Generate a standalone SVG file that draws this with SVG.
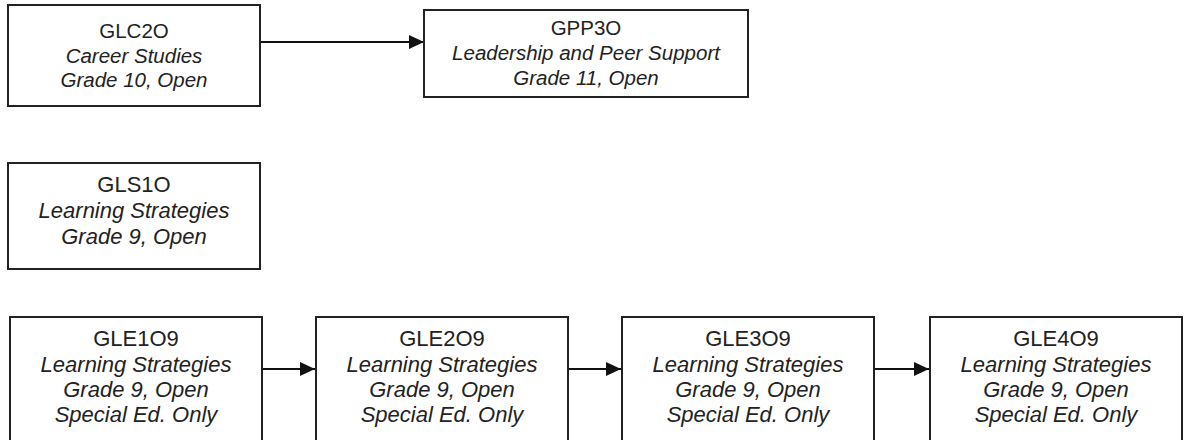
<svg xmlns="http://www.w3.org/2000/svg" width="1185" height="440" viewBox="0 0 1185 440">
<style>
.box{fill:#fff;stroke:#222;stroke-width:2}
.t{font-family:"Liberation Sans",Arial,sans-serif;fill:#222;text-anchor:middle}
.s{font-size:20.5px}
.b{font-size:22px}
.i{font-style:italic}
.c{stroke:#111;stroke-width:2;fill:none}
</style>
<defs>
<marker id="ah" markerWidth="15" markerHeight="14" refX="15" refY="7" orient="auto" markerUnits="userSpaceOnUse">
<path d="M0,0 L15,7 L0,14 z" fill="#111"/>
</marker>
</defs>
<rect width="1185" height="440" fill="#fff"/>
<g id="connectors">
<line class="c" x1="260" y1="42" x2="424" y2="42" marker-end="url(#ah)"/>
<line class="c" x1="262" y1="369" x2="315" y2="369" marker-end="url(#ah)"/>
<line class="c" x1="568" y1="369" x2="621" y2="369" marker-end="url(#ah)"/>
<line class="c" x1="874" y1="369" x2="929" y2="369" marker-end="url(#ah)"/>
</g>
<g id="GLC2O">
<rect class="box" x="8" y="5" width="252" height="101"/>
<text class="t s" x="134" y="38">GLC2O</text>
<text class="t s i" x="134" y="62.5">Career Studies</text>
<text class="t s i" x="134" y="87">Grade 10, Open</text>
</g>
<g id="GPP3O">
<rect class="box" x="424" y="10" width="324" height="87"/>
<text class="t s" x="586" y="34.5">GPP3O</text>
<text class="t s i" x="586" y="59.5">Leadership and Peer Support</text>
<text class="t s i" x="586" y="84.5">Grade 11, Open</text>
</g>
<g id="GLS1O">
<rect class="box" x="8" y="163" width="252" height="106"/>
<text class="t b" x="134" y="192">GLS1O</text>
<text class="t b i" x="134" y="218">Learning Strategies</text>
<text class="t b i" x="134" y="244">Grade 9, Open</text>
</g>
<g id="GLE1O9">
<rect class="box" x="10" y="317" width="252" height="140"/>
<text class="t b" x="136" y="346">GLE1O9</text>
<text class="t b i" x="136" y="371.5">Learning Strategies</text>
<text class="t b i" x="136" y="397">Grade 9, Open</text>
<text class="t b i" x="136" y="422">Special Ed. Only</text>
</g>
<g id="GLE2O9">
<rect class="box" x="316" y="317" width="252" height="140"/>
<text class="t b" x="442" y="346">GLE2O9</text>
<text class="t b i" x="442" y="371.5">Learning Strategies</text>
<text class="t b i" x="442" y="397">Grade 9, Open</text>
<text class="t b i" x="442" y="422">Special Ed. Only</text>
</g>
<g id="GLE3O9">
<rect class="box" x="622" y="317" width="252" height="140"/>
<text class="t b" x="748" y="346">GLE3O9</text>
<text class="t b i" x="748" y="371.5">Learning Strategies</text>
<text class="t b i" x="748" y="397">Grade 9, Open</text>
<text class="t b i" x="748" y="422">Special Ed. Only</text>
</g>
<g id="GLE4O9">
<rect class="box" x="930" y="317" width="252" height="140"/>
<text class="t b" x="1056" y="346">GLE4O9</text>
<text class="t b i" x="1056" y="371.5">Learning Strategies</text>
<text class="t b i" x="1056" y="397">Grade 9, Open</text>
<text class="t b i" x="1056" y="422">Special Ed. Only</text>
</g>
</svg>
